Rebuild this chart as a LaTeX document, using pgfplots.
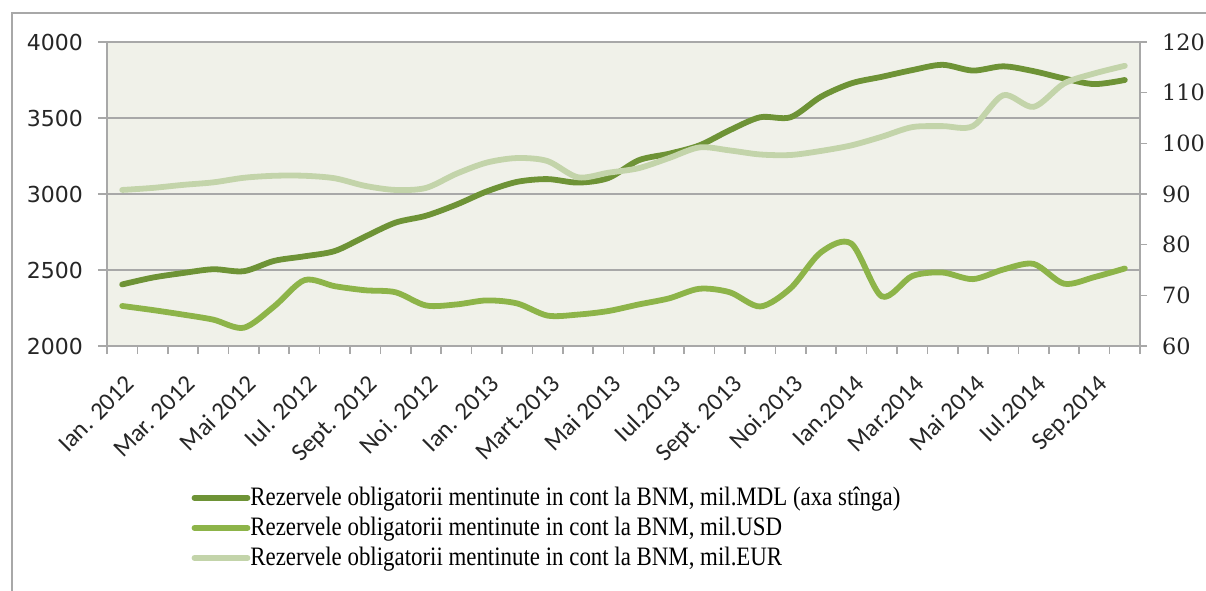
\documentclass[border=0pt]{standalone}
\usepackage{fontspec}
\usepackage{pgfplots}
\usepackage{pgfplotstable}
\pgfplotsset{compat=1.18}
\setmainfont{Liberation Serif}
\newfontfamily\lfont{DejaVu Sans}
\newfontfamily\rfont{DejaVu Serif}
\newfontfamily\xfont{Carlito}
\newfontfamily\legfont[FakeStretch=0.86]{Liberation Serif}
\definecolor{mdl}{HTML}{6E9336}
\definecolor{usd}{HTML}{8DB449}
\definecolor{eur}{HTML}{C3D4AA}
\definecolor{plotbg}{HTML}{F0F1E9}
\definecolor{gridc}{HTML}{A8A8A8}

% monthly, Jan 2012 (0) .. Oct 2014 (33)
\pgfplotstableread{
i  mdl   usd   eur
0  2405  67.9  90.8
1  2450  67.1  91.2
2  2480  66.2  91.8
3  2505  65.2  92.3
4  2492  63.6  93.2
5  2560  67.8  93.6
6  2590  73.0  93.6
7  2625  71.8  93.1
8  2720  71.0  91.6
9  2812  70.6  90.8
10 2857  68.0  91.2
11 2930  68.2  94.0
12 3017  69.0  96.2
13 3080  68.4  97.1
14 3098  66.0  96.5
15 3075  66.2  93.3
16 3105  66.9  94.2
17 3222  68.2  95.1
18 3265  69.4  97.1
19 3320  71.3  99.2
20 3420  70.6  98.6
21 3505  67.8  97.8
22 3505  71.4  97.7
23 3640  78.5  98.5
24 3728  80.2  99.6
25 3771  69.8  101.3
26 3815  73.8  103.2
27 3850  74.5  103.4
28 3812  73.2  103.4
29 3840  75.1  109.5
30 3808  76.2  107.2
31 3760  72.3  111.8
32 3723  73.6  113.8
33 3750  75.3  115.3
}\data

\begin{document}
\begin{tikzpicture}
\pgfplotsset{
  base/.style={scale only axis, width=516.5bp, height=152bp,
    xmin=-0.5, xmax=33.5, tick align=outside,
    /pgf/number format/assume math mode=true,
    /pgf/number format/1000 sep={}},
  serie/.style={line width=2.9bp, smooth, tension=0.5, line join=round, line cap=round},
}
\begin{axis}[base,
  ymin=2000, ymax=4000, ytick={2000,2500,...,4000},
  axis background/.style={fill=plotbg},
  axis line style={gridc, line width=1bp},
  ymajorgrids, grid style={gridc, line width=1bp},
  ytick pos=left, xtick pos=bottom,
  major tick length=4.5bp,
  tick style={gridc, line width=0.8bp},
  yticklabel style={font=\lfont\fontsize{11bp}{13bp}\selectfont, text=black!85},
  yticklabel shift=4bp,
  xtick={0.46,2.46,4.46,6.46,8.46,10.46,12.46,14.46,16.46,18.46,20.46,22.46,24.46,26.46,28.46,30.46,32.46},
  xticklabels={Ian. 2012, Mar. 2012, Mai 2012, Iul. 2012, Sept. 2012, Noi. 2012, Ian. 2013, Mart.2013, Mai 2013, Iul.2013, Sept. 2013, Noi.2013, Ian.2014, Mar.2014, Mai 2014, Iul.2014, Sep.2014},
  major x tick style={draw=none},
  minor xtick={-0.5,0.5,...,33.5},
  minor tick length=4bp,
  minor x tick style={gridc, line width=0.8bp},
  xticklabel style={font=\xfont\fontsize{12.5bp}{14bp}\selectfont, text=black!85,
    rotate=45, anchor=base east, inner sep=0pt},
  xticklabel shift=15bp,
]
\addplot[mdl, serie] table[x=i, y=mdl] {\data};
\coordinate (O) at (rel axis cs:0,0);
\end{axis}
\begin{axis}[base,
  ymin=60, ymax=120, ytick={60,70,...,120},
  axis y line*=right, axis x line=none,
  axis line style={gridc, line width=1bp},
  major tick length=3.5bp,
  tick style={gridc, line width=0.8bp},
  yticklabel style={font=\rfont\fontsize{11.2bp}{13bp}\selectfont, text=black!85},
  yticklabel shift=4bp,
  legend style={at={(rel axis cs:0.0815,-0.598)}, anchor=west, draw=none, fill=none,
    inner sep=0pt, row sep=4.3bp,
    font=\legfont\fontsize{13.3bp}{15bp}\selectfont,
    nodes={inner sep=0pt}},
  legend cell align=left,
  legend image code/.code={\draw[#1, line cap=round] (0bp,0bp) -- (26.5bp,0bp);},
]
\addlegendimage{mdl, line width=2.9bp}
\addlegendentry{Rezervele obligatorii mentinute in cont la BNM, mil.MDL (axa stînga)}
\addplot[usd, serie] table[x=i, y=usd] {\data};
\addlegendentry{Rezervele obligatorii mentinute in cont la BNM, mil.USD}
\addplot[eur, serie] table[x=i, y=eur] {\data};
\addlegendentry{Rezervele obligatorii mentinute in cont la BNM, mil.EUR}
\end{axis}
\draw[gridc, line width=1.2bp, shift={(O)}] (-47.5bp,-140bp) -- (-47.5bp,166.5bp) -- (560bp,166.5bp);
\pgfresetboundingbox
\path[use as bounding box, shift={(O)}] (-53.5bp,-122.5bp) rectangle (549.5bp,173bp);
\end{tikzpicture}
\end{document}
